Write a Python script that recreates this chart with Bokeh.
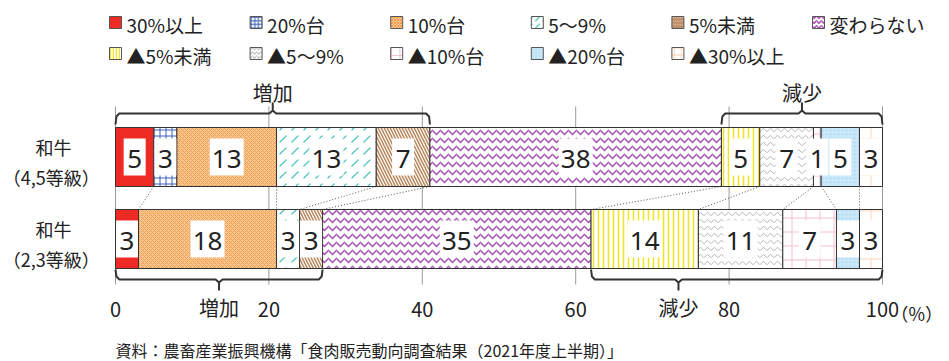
from bokeh.plotting import figure
from bokeh.models import Range1d, FixedTicker
from bokeh.layouts import column
from bokeh.core.properties import value
from bokeh.embed import file_html
from bokeh.resources import INLINE

# ---------------- data ----------------
categories = ["30%以上", "20%台", "10%台", "5～9%", "5%未満", "変わらない",
              "▲5%未満", "▲5～9%", "▲10%台", "▲20%台", "▲30%以上"]
row_line1 = ["和牛", "和牛"]
row_line2 = ["（4,5等級）", "（2,3等級）"]
vals_45 = [5, 3, 13, 13, 7, 38, 5, 7, 1, 5, 3]
vals_23 = [3, 0, 18, 3, 3, 35, 14, 11, 7, 3, 3]
x_ticks = [0, 20, 40, 60, 80, 100]
tick_labels = ["0", "20", "40", "60", "80", "100"]
unit_label = "（%）"
increase_label = "増加"
decrease_label = "減少"
source_text = "資料：農畜産業振興機構「食肉販売動向調査結果（2021年度上半期）」"

# ---------------- styles / layout ----------------
JP = "Noto Sans CJK JP"
TXT = "#222222"
W, H = 949, 361
H_SRC = 30
H_MAIN = H - H_SRC
PX0, PX100 = 115, 882
PPU = (PX100 - PX0) / 100.0
FRAME_H = 322
ROW_Y = [156.5, 238.5]
BAR_H = 59

styles = [
    dict(fill_color="#EE2A24"),
    dict(fill_color="white", hatch_pattern="+", hatch_color="#3A5FB5", hatch_scale=6, hatch_weight=1),
    dict(fill_color="#F9C996", hatch_pattern="x", hatch_color="#F39B4C", hatch_scale=4, hatch_weight=1),
    dict(fill_color="white", hatch_pattern=",", hatch_color="#3CBDB6", hatch_scale=12, hatch_weight=1.2),
    dict(fill_color="white", hatch_pattern="\\", hatch_color="#B9875C", hatch_scale=6, hatch_weight=1.5),
    dict(fill_color="white", hatch_pattern="v", hatch_color="#A84DB4", hatch_scale=8, hatch_weight=1.5),
    dict(fill_color="white", hatch_pattern="|", hatch_color="#F2E520", hatch_scale=5, hatch_weight=1.5),
    dict(fill_color="white", hatch_pattern="v", hatch_color="#B5B5B5", hatch_scale=7, hatch_weight=1),
    dict(fill_color="white", hatch_pattern="+", hatch_color="#F6BFCD", hatch_scale=14, hatch_weight=1),
    dict(fill_color="#CBE8F8", hatch_pattern=".", hatch_color="#A6D6F0", hatch_scale=4, hatch_weight=1),
    dict(fill_color="white", hatch_pattern="+", hatch_color="#F9D6B8", hatch_scale=12, hatch_weight=1),
]

p = figure(width=W, height=H_MAIN, output_backend="svg", toolbar_location=None,
           x_range=Range1d(-PX0 / PPU, 100 + (W - PX100) / PPU),
           y_range=Range1d(FRAME_H, 0),
           min_border_left=0, min_border_right=0, min_border_top=0,
           min_border_bottom=H_MAIN - FRAME_H, y_axis_location=None)
p.outline_line_color = None
p.grid.visible = False
p.background_fill_color = "white"

# axis
ax = p.xaxis[0]
ax.ticker = FixedTicker(ticks=x_ticks)
ax.major_label_overrides = {t: l for t, l in zip(x_ticks, tick_labels)}
ax.axis_line_color = None
ax.major_tick_line_color = None
ax.minor_tick_line_color = None
ax.major_label_text_font = JP
ax.major_label_text_font_size = "20px"
ax.major_label_text_color = TXT
ax.major_label_standoff = -27

# cumulative starts
def cums(vals):
    out, s = [], 0
    for v in vals:
        out.append(s)
        s += v
    return out

starts = [cums(vals_45), cums(vals_23)]
all_vals = [vals_45, vals_23]

# grid lines
p.segment(x0=x_ticks, y0=[106] * len(x_ticks), x1=x_ticks, y1=[284] * len(x_ticks),
          line_color="#9A9A9A", line_width=1)

# connectors
top_y = ROW_Y[0] + BAR_H / 2
bot_y = ROW_Y[1] - BAR_H / 2
cx0, cx1 = [], []
for k in range(1, len(categories)):
    if vals_23[k - 1] == 0:
        continue
    cx0.append(starts[0][k]); cx1.append(starts[1][k])
p.segment(x0=cx0, y0=[top_y] * len(cx0), x1=cx1, y1=[bot_y] * len(cx1),
          line_color="#555555", line_width=1, line_dash="1 2")

# bars
for j, cat in enumerate(categories):
    ys, ls, rs = [], [], []
    for r in range(2):
        v = all_vals[r][j]
        if v <= 0:
            continue
        ys.append(ROW_Y[r]); ls.append(starts[r][j]); rs.append(starts[r][j] + v)
    p.hbar(y=ys, left=ls, right=rs, height=BAR_H, line_color="#333333", line_width=1, **styles[j])

# value labels with white boxes
lx, ly, lt, lw = [], [], [], []
for r in range(2):
    for j, v in enumerate(all_vals[r]):
        if v <= 0:
            continue
        lx.append(starts[r][j] + v / 2); ly.append(ROW_Y[r]); lt.append(str(v))
        lw.append(10 + 12 * len(str(v)))
p.rect(x=lx, y=ly, width=lw, height=37, width_units="screen", height_units="screen",
       fill_color="white", line_color=None)
p.text(x=lx, y=[y + 2 for y in ly], text=lt, text_align="center", text_baseline="middle",
       text_font=value("Noto Sans"), text_font_size="26px", text_color=TXT)

# row labels
lab_x = (53 - PX0) / PPU
p.text(x=[lab_x] * 2, y=[y - 10 for y in ROW_Y], text=row_line1, text_align="center",
       text_baseline="middle", text_font=value(JP), text_font_size="18px", text_color=TXT)
p.text(x=[lab_x - 0.3] * 2, y=[y + 20 for y in ROW_Y], text=row_line2, text_align="center",
       text_baseline="middle", text_font=value(JP), text_font_size="18px", text_color=TXT)

# brackets
def bracket(x0, x1, frac, y_line, y_end, tip_len, label, label_y):
    d = 1 if y_end > y_line else -1
    xc = x0 + (x1 - x0) * frac
    xs = [x0, x0 + 0.12, x0 + 0.5, xc - 0.45, xc, xc, xc, xc + 0.45, x1 - 0.5, x1 - 0.12, x1]
    ys = [y_end, y_line + d * 3, y_line, y_line, y_line - d * 3, y_line - d * tip_len,
          y_line - d * 3, y_line, y_line, y_line + d * 3, y_end]
    p.line(xs, ys, line_color="#333333", line_width=2)
    p.text(x=[xc], y=[label_y], text=[label], text_align="center", text_baseline="middle",
           text_font=value(JP), text_font_size="20px", text_color=TXT)

tot45 = sum(vals_45); tot23 = sum(vals_23)
bracket(0, starts[0][5], 0.5, 113, 124, 11, increase_label, 92)
bracket(starts[0][6], tot45, 0.5, 113, 124, 11, decrease_label, 92)
bracket(0, starts[1][5], 0.5, 279, 269, 11, increase_label, 307)
bracket(starts[1][6], tot23, 0.3, 279, 269, 11, decrease_label, 307)

# unit label next to 100
p.text(x=[100], y=[312], text=[unit_label], x_offset=8, text_align="left", text_baseline="middle",
       text_font=value(JP), text_font_size="18px", text_color=TXT)

# legend (drawn manually)
LEG_X0, LEG_DX = 109, 140.6
LEG_Y = [22, 53]
for j, cat in enumerate(categories):
    r = 0 if j < 6 else 1
    c = j if j < 6 else j - 6
    px = LEG_X0 + c * LEG_DX
    st = dict(styles[j])
    if "hatch_scale" in st:
        st["hatch_scale"] = max(3, st["hatch_scale"] * 0.6)
    p.rect(x=[(px + 6 - PX0) / PPU], y=[LEG_Y[r]], width=12, height=12, width_units="screen",
           height_units="screen", line_color="#555555", line_width=1, **st)
    p.text(x=[(px + 17 - PX0) / PPU], y=[LEG_Y[r] + 2], text=[cat], text_align="left",
           text_baseline="middle", text_font=value(JP), text_font_size="19px", text_color=TXT)

# source line (separate strip below the chart)
s = figure(width=W, height=H_SRC, output_backend="svg", toolbar_location=None,
           x_range=Range1d(0, W), y_range=Range1d(H_SRC, 0),
           min_border=0, x_axis_location=None, y_axis_location=None)
s.outline_line_color = None
s.grid.visible = False
s.text(x=[PX0], y=[18], text=[source_text], text_align="left", text_baseline="middle",
       text_font=value(JP), text_font_size="16px", text_color=TXT)

layout = column(p, s, spacing=0)
open("out.html", "w").write(file_html(layout, INLINE))
